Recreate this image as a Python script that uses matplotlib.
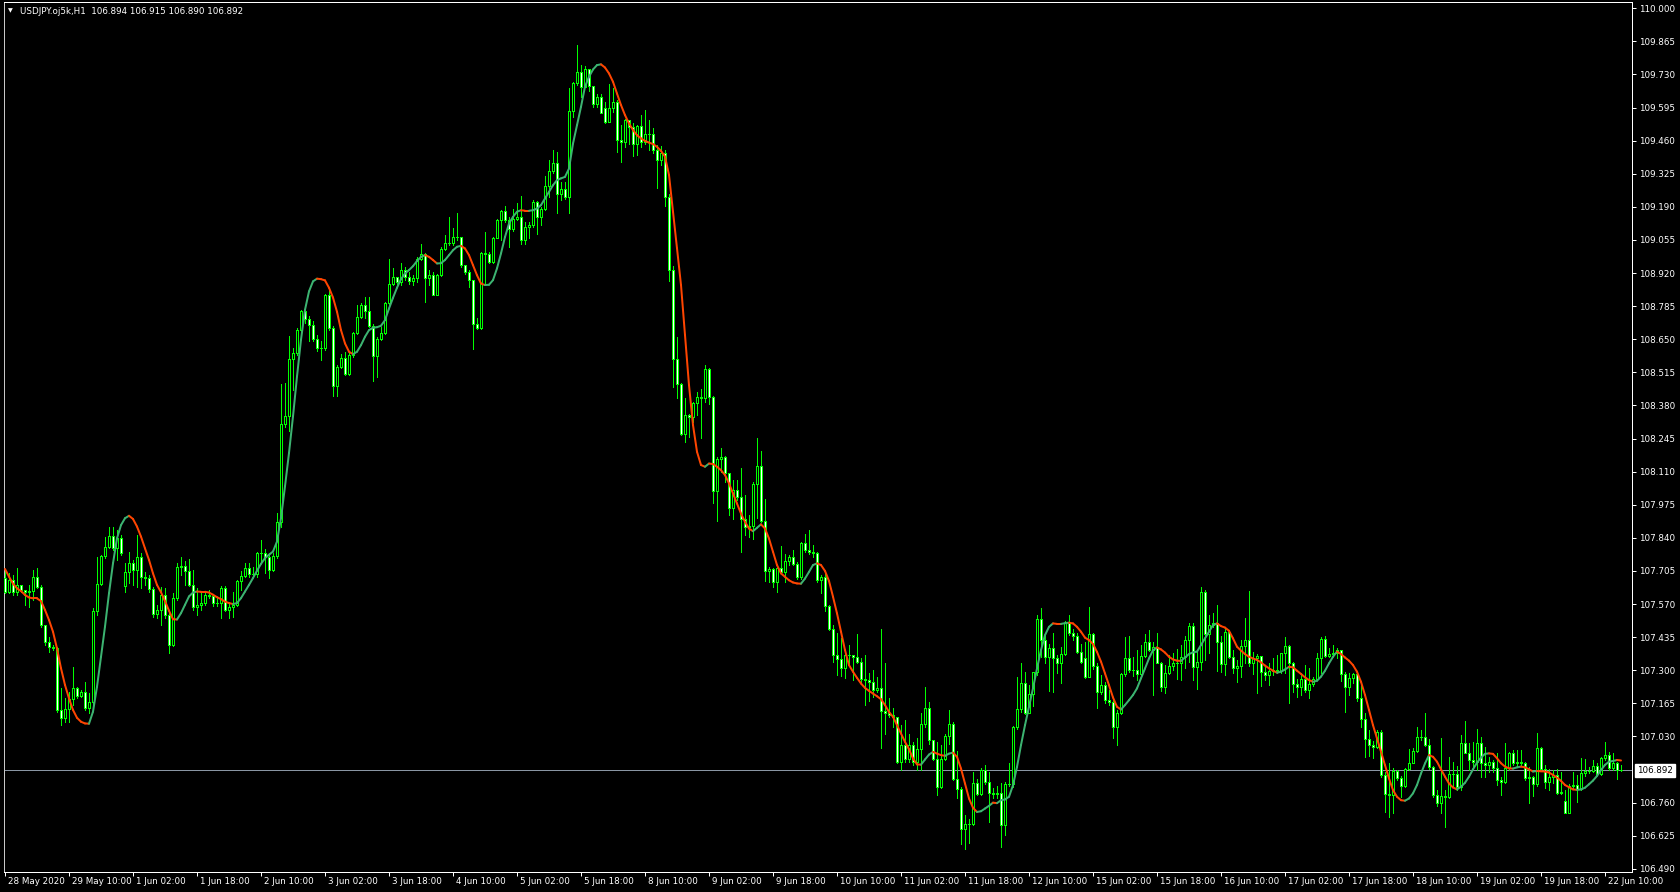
import matplotlib
matplotlib.use("Agg")
import matplotlib.pyplot as plt
import matplotlib.transforms as mtrans
from matplotlib.collections import LineCollection

header_text = "USDJPY.oj5k,H1  106.894 106.915 106.890 106.892"
current_price = 106.892
first_open = 107.675
gap_opens = {30: 107.645, 150: 109.591, 270: 107.348, 390: 106.767}

closes = [
    107.620, 107.668, 107.620, 107.648, 107.626, 107.618, 107.623, 107.680, 107.641, 107.484,
    107.416, 107.396, 107.389, 107.138, 107.106, 107.142, 107.182, 107.226, 107.196, 107.210,
    107.144, 107.169, 107.541, 107.652, 107.766, 107.801, 107.846, 107.797, 107.838, 107.777,
    107.699, 107.736, 107.707, 107.763, 107.682, 107.675, 107.630, 107.528, 107.546, 107.607,
    107.525, 107.404, 107.594, 107.720, 107.727, 107.706, 107.648, 107.556, 107.567, 107.574,
    107.608, 107.601, 107.574, 107.576, 107.635, 107.544, 107.557, 107.567, 107.662, 107.686,
    107.719, 107.692, 107.693, 107.778, 107.780, 107.761, 107.710, 107.767, 107.903, 108.304,
    108.335, 108.569, 108.594, 108.689, 108.764, 108.732, 108.706, 108.652, 108.614, 108.614,
    108.829, 108.696, 108.460, 108.537, 108.575, 108.510, 108.585, 108.677, 108.739, 108.789,
    108.765, 108.705, 108.582, 108.650, 108.677, 108.796, 108.877, 108.905, 108.884, 108.932,
    108.905, 108.887, 108.901, 108.979, 108.996, 108.898, 108.911, 108.832, 108.911, 109.020,
    109.041, 109.041, 109.065, 109.068, 108.952, 108.925, 108.891, 108.714, 108.694, 109.000,
    108.996, 108.963, 109.061, 109.136, 109.172, 109.136, 109.098, 109.142, 109.149, 109.054,
    109.106, 109.114, 109.208, 109.149, 109.183, 109.274, 109.336, 109.367, 109.242, 109.261,
    109.228, 109.580, 109.693, 109.741, 109.680, 109.754, 109.682, 109.608, 109.639, 109.574,
    109.537, 109.594, 109.616, 109.462, 109.455, 109.544, 109.514, 109.448, 109.519, 109.455,
    109.489, 109.485, 109.421, 109.380, 109.408, 109.231, 108.932, 108.568, 108.466, 108.263,
    108.341, 108.334, 108.391, 108.415, 108.409, 108.527, 108.415, 108.032, 108.161, 108.171,
    108.103, 107.963, 108.037, 108.007, 107.915, 107.885, 107.889, 108.058, 108.134, 107.909,
    107.704, 107.712, 107.661, 107.715, 107.701, 107.745, 107.763, 107.735, 107.681, 107.817,
    107.790, 107.783, 107.779, 107.667, 107.681, 107.560, 107.468, 107.362, 107.345, 107.310,
    107.362, 107.362, 107.356, 107.334, 107.266, 107.260, 107.253, 107.219, 107.226, 107.135,
    107.124, 107.117, 107.110, 106.926, 106.994, 106.940, 106.994, 106.926, 106.978, 107.079,
    107.148, 107.015, 106.937, 106.822, 106.940, 107.032, 107.079, 106.858, 106.815, 106.654,
    106.672, 106.671, 106.841, 106.797, 106.892, 106.845, 106.800, 106.797, 106.800, 106.668,
    106.835, 106.838, 107.067, 107.140, 107.246, 107.127, 107.203, 107.291, 107.511, 107.423,
    107.355, 107.389, 107.348, 107.331, 107.366, 107.494, 107.450, 107.439, 107.375, 107.335,
    107.271, 107.446, 107.318, 107.212, 107.239, 107.178, 107.171, 107.069, 107.126, 107.283,
    107.348, 107.301, 107.303, 107.283, 107.360, 107.416, 107.382, 107.393, 107.331, 107.233,
    107.290, 107.317, 107.331, 107.328, 107.355, 107.423, 107.482, 107.314, 107.335, 107.618,
    107.448, 107.484, 107.494, 107.416, 107.325, 107.454, 107.355, 107.308, 107.317, 107.400,
    107.423, 107.331, 107.348, 107.358, 107.294, 107.280, 107.298, 107.301, 107.298, 107.369,
    107.399, 107.328, 107.244, 107.230, 107.263, 107.219, 107.244, 107.263, 107.348, 107.426,
    107.358, 107.365, 107.369, 107.382, 107.284, 107.230, 107.267, 107.284, 107.185, 107.100,
    107.018, 106.995, 106.988, 107.049, 106.872, 106.795, 106.791, 106.890, 106.859, 106.828,
    106.896, 106.923, 106.972, 107.029, 107.029, 106.995, 106.904, 106.791, 106.759, 106.787,
    106.784, 106.877, 106.877, 106.822, 107.004, 106.964, 106.934, 106.924, 107.002, 106.923,
    106.913, 106.927, 106.900, 106.853, 106.846, 106.900, 106.964, 106.921, 106.927, 106.923,
    106.859, 106.863, 106.836, 106.984, 106.896, 106.846, 106.866, 106.873, 106.798, 106.805,
    106.719, 106.828, 106.832, 106.814, 106.880, 106.891, 106.891, 106.910, 106.877, 106.941,
    106.955, 106.900, 106.921, 106.894, 106.892,
]

highs = [
    107.709, 107.695, 107.688, 107.716, 107.648, 107.627, 107.648, 107.709, 107.716, 107.648,
    107.484, 107.437, 107.403, 107.396, 107.226, 107.185, 107.212, 107.312, 107.233, 107.219,
    107.253, 107.206, 107.552, 107.763, 107.770, 107.845, 107.886, 107.886, 107.872, 107.852,
    107.736, 107.784, 107.750, 107.852, 107.777, 107.702, 107.688, 107.641, 107.566, 107.641,
    107.634, 107.532, 107.614, 107.737, 107.761, 107.744, 107.753, 107.710, 107.635, 107.614,
    107.621, 107.628, 107.608, 107.594, 107.642, 107.642, 107.574, 107.621, 107.669, 107.703,
    107.737, 107.737, 107.723, 107.784, 107.832, 107.794, 107.778, 107.778, 107.941, 108.467,
    108.471, 108.662, 108.614, 108.696, 108.770, 108.770, 108.743, 108.723, 108.668, 108.641,
    108.836, 108.852, 108.702, 108.544, 108.589, 108.599, 108.592, 108.680, 108.789, 108.796,
    108.823, 108.823, 108.714, 108.660, 108.701, 108.803, 108.979, 108.939, 108.905, 108.959,
    108.945, 108.925, 108.911, 108.986, 109.037, 109.000, 108.932, 108.925, 108.918, 109.027,
    109.075, 109.147, 109.102, 109.163, 109.061, 108.952, 108.932, 108.891, 108.735, 109.007,
    109.088, 109.007, 109.068, 109.140, 109.176, 109.193, 109.149, 109.183, 109.204, 109.234,
    109.129, 109.129, 109.217, 109.214, 109.190, 109.315, 109.380, 109.421, 109.414, 109.292,
    109.292, 109.673, 109.700, 109.850, 109.768, 109.764, 109.754, 109.682, 109.652, 109.652,
    109.618, 109.689, 109.673, 109.625, 109.523, 109.550, 109.544, 109.533, 109.523, 109.564,
    109.584, 109.544, 109.510, 109.442, 109.440, 109.422, 109.241, 108.949, 108.660, 108.470,
    108.409, 108.347, 108.395, 108.436, 108.449, 108.545, 108.531, 108.420, 108.171, 108.205,
    108.175, 108.103, 108.075, 108.075, 108.126, 108.014, 107.933, 108.069, 108.248, 108.194,
    107.998, 107.722, 107.718, 107.726, 107.807, 107.776, 107.769, 107.790, 107.742, 107.821,
    107.854, 107.871, 107.810, 107.783, 107.688, 107.691, 107.566, 107.484, 107.450, 107.430,
    107.375, 107.405, 107.362, 107.446, 107.348, 107.364, 107.287, 107.300, 107.273, 107.468,
    107.328, 107.185, 107.144, 107.110, 107.076, 107.096, 107.042, 107.008, 107.022, 107.124,
    107.230, 107.171, 107.015, 107.008, 106.997, 107.038, 107.137, 107.090, 106.970, 106.824,
    106.709, 106.695, 106.886, 106.856, 106.902, 106.913, 106.886, 106.818, 106.827, 106.841,
    106.845, 106.920, 107.072, 107.271, 107.328, 107.294, 107.239, 107.294, 107.525, 107.552,
    107.450, 107.409, 107.450, 107.362, 107.396, 107.502, 107.525, 107.467, 107.450, 107.409,
    107.416, 107.559, 107.453, 107.328, 107.280, 107.253, 107.219, 107.178, 107.137, 107.287,
    107.437, 107.439, 107.355, 107.382, 107.403, 107.447, 107.464, 107.416, 107.450, 107.335,
    107.321, 107.362, 107.372, 107.385, 107.403, 107.440, 107.494, 107.491, 107.376, 107.641,
    107.627, 107.525, 107.532, 107.566, 107.440, 107.467, 107.464, 107.382, 107.342, 107.423,
    107.512, 107.623, 107.376, 107.366, 107.358, 107.317, 107.328, 107.348, 107.362, 107.369,
    107.437, 107.403, 107.335, 107.263, 107.287, 107.321, 107.308, 107.274, 107.369, 107.437,
    107.440, 107.389, 107.403, 107.389, 107.380, 107.294, 107.290, 107.290, 107.294, 107.246,
    107.124, 107.056, 107.012, 107.056, 107.056, 106.886, 106.920, 106.900, 106.893, 106.868,
    106.900, 106.977, 106.981, 107.070, 107.056, 107.127, 107.018, 106.909, 106.811, 107.022,
    106.811, 106.947, 106.927, 106.909, 107.036, 107.094, 107.002, 107.008, 107.059, 107.029,
    106.988, 106.948, 106.934, 106.961, 106.866, 107.002, 106.968, 106.975, 106.975, 106.975,
    106.927, 106.907, 106.869, 107.046, 106.989, 106.914, 106.896, 106.893, 106.896, 106.883,
    106.812, 106.836, 106.887, 106.873, 106.941, 106.937, 106.907, 106.934, 106.921, 106.948,
    107.009, 106.968, 106.961, 106.927, 106.915,
]

lows = [
    107.614, 107.614, 107.607, 107.607, 107.618, 107.566, 107.559, 107.586, 107.634, 107.478,
    107.403, 107.376, 107.382, 107.131, 107.076, 107.090, 107.090, 107.158, 107.185, 107.192,
    107.138, 107.124, 107.158, 107.525, 107.648, 107.756, 107.797, 107.790, 107.750, 107.770,
    107.620, 107.654, 107.648, 107.641, 107.634, 107.648, 107.620, 107.518, 107.512, 107.484,
    107.512, 107.372, 107.397, 107.587, 107.689, 107.648, 107.642, 107.546, 107.526, 107.546,
    107.567, 107.594, 107.563, 107.560, 107.512, 107.540, 107.512, 107.519, 107.560, 107.628,
    107.682, 107.682, 107.682, 107.682, 107.740, 107.696, 107.676, 107.706, 107.757, 107.886,
    108.294, 108.274, 108.444, 108.587, 108.655, 108.716, 108.641, 108.641, 108.600, 108.566,
    108.607, 108.689, 108.420, 108.419, 108.531, 108.506, 108.503, 108.578, 108.673, 108.735,
    108.735, 108.701, 108.479, 108.497, 108.646, 108.673, 108.789, 108.871, 108.877, 108.871,
    108.891, 108.877, 108.871, 108.884, 108.973, 108.800, 108.871, 108.830, 108.830, 108.909,
    109.013, 109.034, 109.034, 109.054, 108.945, 108.918, 108.864, 108.612, 108.691, 108.691,
    108.871, 108.959, 108.959, 109.061, 109.054, 109.129, 109.027, 109.092, 109.136, 109.040,
    109.040, 109.061, 109.108, 109.081, 109.115, 109.176, 109.231, 109.326, 109.165, 109.217,
    109.220, 109.163, 109.557, 109.686, 109.636, 109.677, 109.663, 109.598, 109.598, 109.571,
    109.533, 109.578, 109.578, 109.414, 109.374, 109.435, 109.448, 109.397, 109.401, 109.435,
    109.448, 109.421, 109.408, 109.265, 109.360, 109.195, 108.889, 108.456, 108.409, 108.259,
    108.232, 108.252, 108.313, 108.341, 108.248, 108.395, 108.384, 107.983, 107.909, 108.109,
    108.069, 107.935, 107.916, 107.994, 107.783, 107.851, 107.844, 107.837, 107.919, 107.905,
    107.663, 107.661, 107.640, 107.620, 107.695, 107.661, 107.729, 107.729, 107.674, 107.674,
    107.783, 107.776, 107.763, 107.661, 107.613, 107.540, 107.464, 107.334, 107.280, 107.277,
    107.269, 107.321, 107.260, 107.328, 107.253, 107.158, 107.174, 107.192, 107.212, 106.984,
    107.042, 107.110, 107.069, 106.920, 106.892, 106.926, 106.924, 106.913, 106.892, 106.892,
    107.069, 107.001, 106.933, 106.793, 106.818, 106.933, 107.001, 106.852, 106.777, 106.593,
    106.570, 106.597, 106.668, 106.793, 106.793, 106.838, 106.682, 106.777, 106.777, 106.580,
    106.627, 106.827, 106.825, 107.059, 107.131, 107.121, 107.124, 107.154, 107.280, 107.355,
    107.331, 107.216, 107.212, 107.287, 107.249, 107.362, 107.443, 107.423, 107.369, 107.328,
    107.267, 107.311, 107.307, 107.144, 107.205, 107.165, 107.158, 107.022, 106.995, 107.121,
    107.277, 107.294, 107.276, 107.260, 107.276, 107.355, 107.379, 107.199, 107.328, 107.216,
    107.208, 107.284, 107.301, 107.263, 107.260, 107.308, 107.335, 107.260, 107.222, 107.301,
    107.342, 107.372, 107.478, 107.298, 107.294, 107.280, 107.348, 107.290, 107.253, 107.274,
    107.328, 107.317, 107.284, 107.208, 107.236, 107.260, 107.240, 107.280, 107.287, 107.287,
    107.287, 107.165, 107.212, 107.189, 107.199, 107.212, 107.185, 107.236, 107.260, 107.287,
    107.355, 107.355, 107.362, 107.348, 107.257, 107.131, 107.199, 107.246, 107.176, 107.070,
    106.947, 106.950, 106.944, 106.981, 106.866, 106.723, 106.702, 106.716, 106.852, 106.784,
    106.825, 106.893, 106.920, 106.968, 107.015, 106.991, 106.896, 106.784, 106.746, 106.719,
    106.662, 106.777, 106.825, 106.811, 106.811, 106.961, 106.893, 106.906, 106.893, 106.866,
    106.866, 106.887, 106.887, 106.832, 106.791, 106.839, 106.893, 106.914, 106.907, 106.910,
    106.853, 106.757, 106.787, 106.828, 106.893, 106.819, 106.812, 106.839, 106.795, 106.795,
    106.717, 106.757, 106.819, 106.764, 106.812, 106.869, 106.880, 106.887, 106.873, 106.873,
    106.934, 106.893, 106.893, 106.855, 106.890,
]

ma_values = [
    107.713, 107.682, 107.653, 107.634, 107.623, 107.607, 107.597, 107.593, 107.593, 107.582,
    107.546, 107.505, 107.457, 107.389, 107.308, 107.240, 107.185, 107.138, 107.106, 107.090,
    107.083, 107.082, 107.131, 107.233, 107.355, 107.478, 107.614, 107.736, 107.838, 107.892,
    107.920, 107.930, 107.917, 107.886, 107.845, 107.797, 107.750, 107.695, 107.648, 107.618,
    107.582, 107.543, 107.508, 107.507, 107.533, 107.567, 107.601, 107.617, 107.621, 107.620,
    107.620, 107.617, 107.608, 107.598, 107.590, 107.580, 107.574, 107.570, 107.574, 107.594,
    107.621, 107.648, 107.676, 107.706, 107.734, 107.757, 107.771, 107.784, 107.825, 107.920,
    108.050, 108.186, 108.335, 108.498, 108.648, 108.770, 108.845, 108.886, 108.897, 108.895,
    108.890, 108.860, 108.820, 108.762, 108.687, 108.633, 108.599, 108.589, 108.599, 108.626,
    108.660, 108.687, 108.697, 108.699, 108.705, 108.728, 108.775, 108.819, 108.860, 108.895,
    108.918, 108.932, 108.948, 108.969, 108.986, 108.993, 108.986, 108.973, 108.959, 108.960,
    108.973, 108.993, 109.013, 109.027, 109.031, 109.020, 108.993, 108.952, 108.911, 108.877,
    108.871, 108.872, 108.891, 108.939, 109.000, 109.067, 109.122, 109.149, 109.170, 109.176,
    109.174, 109.174, 109.176, 109.183, 109.197, 109.224, 109.251, 109.278, 109.299, 109.306,
    109.312, 109.346, 109.448, 109.523, 109.598, 109.680, 109.720, 109.750, 109.768, 109.771,
    109.758, 109.734, 109.700, 109.652, 109.605, 109.564, 109.530, 109.503, 109.482, 109.469,
    109.459, 109.452, 109.446, 109.435, 109.418, 109.395, 109.320, 109.170, 109.021, 108.871,
    108.667, 108.463, 108.300, 108.191, 108.137, 108.130, 108.143, 108.141, 108.130, 108.116,
    108.096, 108.062, 108.021, 107.980, 107.939, 107.905, 107.878, 107.867, 107.881, 107.895,
    107.878, 107.837, 107.783, 107.729, 107.695, 107.681, 107.667, 107.658, 107.654, 107.653,
    107.674, 107.701, 107.729, 107.736, 107.729, 107.705, 107.664, 107.600, 107.532, 107.457,
    107.382, 107.321, 107.294, 107.269, 107.246, 107.228, 107.216, 107.205, 107.194, 107.182,
    107.158, 107.130, 107.110, 107.076, 107.042, 107.008, 106.978, 106.940, 106.916, 106.915,
    106.936, 106.956, 106.967, 106.960, 106.954, 106.951, 106.960, 106.964, 106.947, 106.899,
    106.838, 106.777, 106.739, 106.722, 106.725, 106.736, 106.747, 106.760, 106.758, 106.770,
    106.773, 106.784, 106.831, 106.906, 106.995, 107.076, 107.151, 107.226, 107.307, 107.382,
    107.443, 107.477, 107.491, 107.489, 107.489, 107.492, 107.494, 107.491, 107.477, 107.457,
    107.433, 107.423, 107.407, 107.375, 107.335, 107.287, 107.239, 107.189, 107.151, 107.140,
    107.158, 107.178, 107.199, 107.226, 107.267, 107.307, 107.348, 107.382, 107.393, 107.385,
    107.372, 107.355, 107.344, 107.339, 107.338, 107.352, 107.366, 107.373, 107.376, 107.403,
    107.430, 107.457, 107.484, 107.491, 107.480, 107.474, 107.461, 107.430, 107.396, 107.380,
    107.366, 107.355, 107.348, 107.342, 107.332, 107.319, 107.308, 107.298, 107.290, 107.294,
    107.303, 107.314, 107.312, 107.298, 107.285, 107.271, 107.260, 107.253, 107.257, 107.274,
    107.298, 107.328, 107.355, 107.376, 107.366, 107.352, 107.339, 107.321, 107.294, 107.253,
    107.199, 107.138, 107.076, 107.022, 106.968, 106.913, 106.859, 106.811, 106.784, 106.770,
    106.768, 106.777, 106.798, 106.832, 106.879, 106.920, 106.954, 106.947, 106.927, 106.896,
    106.866, 106.838, 106.822, 106.814, 106.825, 106.841, 106.866, 106.896, 106.923, 106.944,
    106.959, 106.961, 106.959, 106.941, 106.921, 106.907, 106.900, 106.899, 106.904, 106.907,
    106.904, 106.896, 106.887, 106.889, 106.888, 106.887, 106.883, 106.873, 106.862, 106.849,
    106.832, 106.823, 106.814, 106.812, 106.814, 106.821, 106.835, 106.850, 106.869, 106.893,
    106.914, 106.927, 106.930, 106.934, 106.932,
]

x_tick_idx = [0, 16, 32, 48, 64, 80, 96, 112, 128, 144, 160, 176, 192, 208, 224, 240,
              256, 272, 288, 304, 320, 336, 352, 368, 384, 400]
x_tick_labels = ["28 May 2020", "29 May 10:00", "1 Jun 02:00", "1 Jun 18:00", "2 Jun 10:00",
                 "3 Jun 02:00", "3 Jun 18:00", "4 Jun 10:00", "5 Jun 02:00", "5 Jun 18:00",
                 "8 Jun 10:00", "9 Jun 02:00", "9 Jun 18:00", "10 Jun 10:00", "11 Jun 02:00",
                 "11 Jun 18:00", "12 Jun 10:00", "15 Jun 02:00", "15 Jun 18:00", "16 Jun 10:00",
                 "17 Jun 02:00", "17 Jun 18:00", "18 Jun 10:00", "19 Jun 02:00", "19 Jun 18:00",
                 "22 Jun 10:00"]
y_tick_values = [110.000, 109.865, 109.730, 109.595, 109.460, 109.325, 109.190, 109.055,
                 108.920, 108.785, 108.650, 108.515, 108.380, 108.245, 108.110, 107.975,
                 107.840, 107.705, 107.570, 107.435, 107.300, 107.165, 107.030,
                 106.760, 106.625, 106.490]

# ---------------------------------------------------------------- style
BG = "black"
CANDLE_LINE = "#00FF00"
UP_COLOR = "#3CB371"
DOWN_COLOR = "#FF4500"
PX = 0.72  # one pixel in points at 100 dpi
FS = 6.3

W, H = 1680, 892
fig = plt.figure(figsize=(W / 100, H / 100), dpi=100, facecolor=BG)
ax_left, ax_right, ax_top, ax_bottom = 4, 1632, 2, 872
ax = fig.add_axes([ax_left / W, (H - ax_bottom) / H,
                   (ax_right - ax_left) / W, (ax_bottom - ax_top) / H])
ax.set_facecolor(BG)

n = min(len(closes), len(highs), len(lows))
ax.set_xlim(-0.25, 406.75)
ax.set_ylim(106.4772, 110.0253)

# candles
opens = []
for i in range(n):
    if i == 0:
        opens.append(first_open)
    elif i in gap_opens:
        opens.append(gap_opens[i])
    else:
        opens.append(closes[i - 1])

xs = list(range(n))
hi = [max(highs[i], opens[i], closes[i]) for i in range(n)]
lo = [min(lows[i], opens[i], closes[i]) for i in range(n)]
ax.vlines(xs, lo, hi, colors=CANDLE_LINE, linewidth=PX, antialiased=False, zorder=2)

bottoms = [min(opens[i], closes[i]) for i in range(n)]
heights = [abs(closes[i] - opens[i]) for i in range(n)]
faces = ["black" if closes[i] > opens[i] else "white" for i in range(n)]
ax.bar(xs, heights, bottom=bottoms, width=0.5, color=faces, edgecolor=CANDLE_LINE,
       linewidth=PX, antialiased=False, zorder=3)

# current price line
ax.axhline(current_price, color="#8A96A4", linewidth=PX, zorder=1.5)

# indicator line coloured by slope
m = len(ma_values)
segs, cols = [], []
prev = DOWN_COLOR
for i in range(m - 1):
    a, b = ma_values[i], ma_values[i + 1]
    if b > a:
        prev = UP_COLOR
    elif b < a:
        prev = DOWN_COLOR
    segs.append([(i, a), (i + 1, b)])
    cols.append(prev)
lc = LineCollection(segs, colors=cols, linewidths=2 * PX, capstyle="round", zorder=5)
ax.add_collection(lc)

# spines
for s in ax.spines.values():
    s.set_color("white")
    s.set_linewidth(PX)
ax.spines["left"].set_color("#C8C8C8")

# y axis on right
ax.yaxis.tick_right()
ax.set_yticks(y_tick_values)
ax.set_yticklabels(["%.3f" % v for v in y_tick_values])
ax.tick_params(axis="y", colors="white", length=3, width=PX, pad=2, labelsize=FS,
               left=False, right=True)

# x axis
ax.set_xticks(x_tick_idx)
ax.set_xticklabels([])
ax.tick_params(axis="x", colors="white", length=3, width=PX, direction="out")
lab_tr = mtrans.offset_copy(ax.get_xaxis_transform(), fig=fig, x=3, y=-10, units="dots")
for idx, lab in zip(x_tick_idx, x_tick_labels):
    ax.text(idx, 0, lab, transform=lab_tr, ha="left", va="center", fontsize=FS,
            color="white", family="DejaVu Sans", clip_on=False)

# current price box
box_tr = mtrans.offset_copy(mtrans.blended_transform_factory(ax.transAxes, ax.transData),
                            fig=fig, x=5, y=0, units="dots")
ax.text(1.0, current_price, "%.3f" % current_price, transform=box_tr, ha="left", va="center",
        fontsize=FS, color="black", clip_on=False, zorder=10,
        bbox=dict(boxstyle="square,pad=0.25", facecolor="white", edgecolor="white"))

# header
fig.text(8 / W, 1 - 11 / H, "\u25BC", fontsize=4.5, color="white", va="center", ha="left")
fig.text(20 / W, 1 - 11 / H, header_text, fontsize=FS, color="white", va="center", ha="left")

fig.savefig("out.png", dpi=100, facecolor=BG)
